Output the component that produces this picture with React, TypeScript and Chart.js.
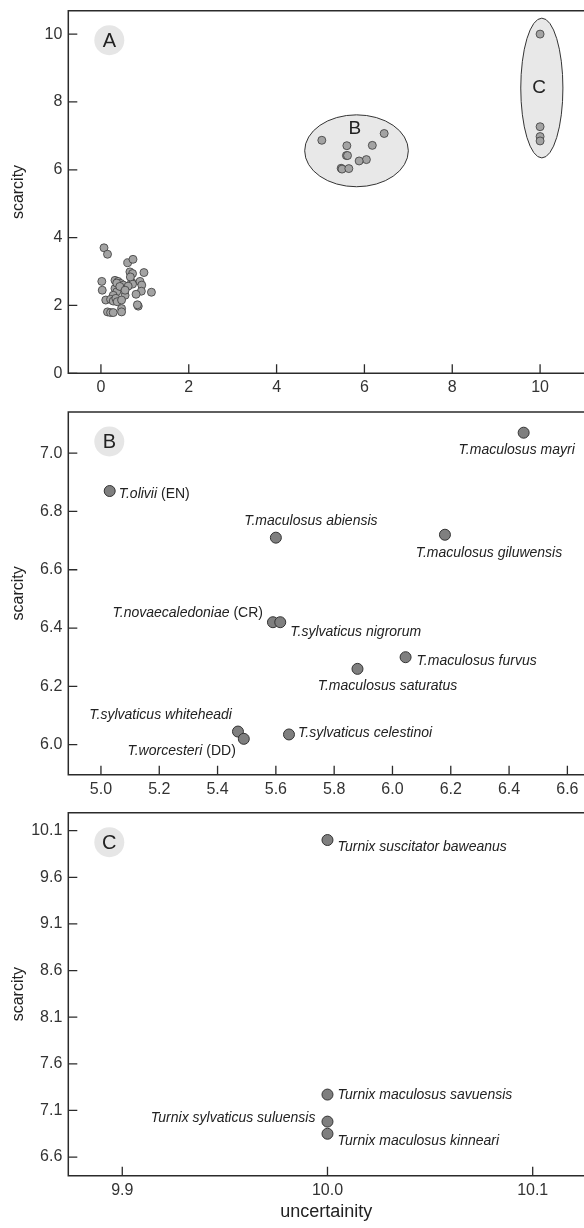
import React, { useEffect, useRef } from "react";
import { Chart, registerables } from "chart.js";
Chart.register(...registerables);

const FONT = "'Liberation Sans', Arial, Helvetica, sans-serif";

// ---------- Panel A : all taxa (uncertainty vs scarcity) ----------
const aClusterX = [0.07, 0.15, 0.61, 0.73, 0.66, 0.72, 0.98, 0.02, 0.03, 0.32, 0.39, 0.45, 0.51, 0.70, 0.72, 0.89, 0.93, 0.92, 1.15, 0.32, 0.36, 0.28, 0.55, 0.80, 0.11, 0.22, 0.28, 0.34, 0.37, 0.47, 0.85, 0.83, 0.15, 0.22, 0.28, 0.47, 0.47, 0.36, 0.43, 0.62, 0.67, 0.55];
const aClusterY = [3.70, 3.51, 3.26, 3.36, 2.99, 2.94, 2.97, 2.71, 2.45, 2.74, 2.71, 2.65, 2.60, 2.69, 2.63, 2.71, 2.60, 2.42, 2.39, 2.50, 2.40, 2.30, 2.30, 2.33, 2.16, 2.18, 2.13, 2.21, 2.11, 2.16, 1.98, 2.02, 1.81, 1.79, 1.79, 1.91, 1.81, 2.66, 2.56, 2.57, 2.84, 2.45];
const aXTicks = [0, 2, 4, 6, 8, 10];
const aYTicks = [0, 2, 4, 6, 8, 10];
// groups highlighted in panel A (data units)
const groupNames = ["B", "C"];
const groupCX = [5.82, 10.04];
const groupCY = [6.56, 8.41];
const groupRX = [1.18, 0.48];
const groupRY = [1.06, 2.06];
const groupLabelX = [5.78, 9.98];
const groupLabelY = [7.22, 8.41];

// ---------- Panel B : group B ----------
const bNames = ["T.olivii", "T.maculosus mayri", "T.maculosus abiensis", "T.maculosus giluwensis", "T.novaecaledoniae", "T.sylvaticus nigrorum", "T.maculosus furvus", "T.maculosus saturatus", "T.sylvaticus whiteheadi", "T.worcesteri", "T.sylvaticus celestinoi"];
const bStatus = ["(EN)", "", "", "", "(CR)", "", "", "", "", "(DD)", ""];
const bX = [5.03, 6.45, 5.60, 6.18, 5.59, 5.615, 6.045, 5.88, 5.47, 5.49, 5.645];
const bY = [6.87, 7.07, 6.71, 6.72, 6.42, 6.42, 6.30, 6.26, 6.045, 6.02, 6.035];
const bXTicks = [5.0, 5.2, 5.4, 5.6, 5.8, 6.0, 6.2, 6.4, 6.6];
const bYTicks = [6.0, 6.2, 6.4, 6.6, 6.8, 7.0];

// ---------- Panel C : group C ----------
const cNames = ["Turnix suscitator baweanus", "Turnix maculosus savuensis", "Turnix sylvaticus suluensis", "Turnix maculosus kinneari"];
const cX = [10.0, 10.0, 10.0, 10.0];
const cY = [10.0, 7.27, 6.98, 6.85];
const cXTicks = [9.9, 10.0, 10.1];
const cYTicks = [6.6, 7.1, 7.6, 8.1, 8.6, 9.1, 9.6, 10.1];

// label placement (pixels relative to the point), kept apart from data
type Place = { align: "left" | "right" | "center"; dx: number; dy: number };
const bPlace: Place[] = [
  { align: "left", dx: 9, dy: 3 },
  { align: "center", dx: -7, dy: 17 },
  { align: "center", dx: 35, dy: -17 },
  { align: "center", dx: 44, dy: 18 },
  { align: "right", dx: -10, dy: -9 },
  { align: "left", dx: 10, dy: 10 },
  { align: "left", dx: 11, dy: 4 },
  { align: "center", dx: 30, dy: 17 },
  { align: "right", dx: -6, dy: -16 },
  { align: "right", dx: -8, dy: 12 },
  { align: "left", dx: 9, dy: -1 },
];
const cPlace: Place[] = [
  { align: "left", dx: 10, dy: 7 },
  { align: "left", dx: 10, dy: 1 },
  { align: "right", dx: -12, dy: -4 },
  { align: "left", dx: 10, dy: 7 },
];

const pts = (xs: number[], ys: number[]) => xs.map((x, i) => ({ x, y: ys[i] }));

type Spec = {
  badge: string;
  height: number;
  plotTop: number;
  plotBottom: number;
  xMin: number; xMax: number; yMin: number; yMax: number;
  xTicks: number[]; yTicks: number[];
  decimals: number;
  datasets: any[];
  labels?: { names: string[]; status: string[]; place: Place[]; ds: number };
  groups?: boolean;
  xTitle?: string;
};

function drawLabel(ctx: CanvasRenderingContext2D, x: number, y: number, name: string, tag: string, align: string) {
  const it = `italic 14px ${FONT}`;
  const nf = `14px ${FONT}`;
  ctx.font = it;
  const wn = ctx.measureText(name).width;
  let wt = 0;
  if (tag) { ctx.font = nf; wt = ctx.measureText(" " + tag).width; }
  const total = wn + wt;
  const sx = align === "left" ? x : align === "right" ? x - total : x - total / 2;
  ctx.textAlign = "left";
  ctx.textBaseline = "middle";
  ctx.fillStyle = "#222";
  ctx.font = it;
  ctx.fillText(name, sx, y);
  if (tag) { ctx.font = nf; ctx.fillText(" " + tag, sx + wn, y); }
}

function makeDeco(spec: Spec) {
  return {
    id: "deco" + spec.badge,
    beforeDatasetsDraw(chart: any) {
      if (!spec.groups) return;
      const { ctx, scales } = chart;
      const xs = scales.x, ys = scales.y;
      ctx.save();
      groupNames.forEach((g, i) => {
        const cx = xs.getPixelForValue(groupCX[i]);
        const cy = ys.getPixelForValue(groupCY[i]);
        const rx = Math.abs(xs.getPixelForValue(groupCX[i] + groupRX[i]) - cx);
        const ry = Math.abs(ys.getPixelForValue(groupCY[i] + groupRY[i]) - cy);
        ctx.beginPath();
        ctx.ellipse(cx, cy, rx, ry, 0, 0, Math.PI * 2);
        ctx.fillStyle = "#e8e8e8";
        ctx.fill();
        ctx.lineWidth = 1;
        ctx.strokeStyle = "#333";
        ctx.stroke();
        ctx.fillStyle = "#222";
        ctx.font = `19px ${FONT}`;
        ctx.textAlign = "center";
        ctx.textBaseline = "middle";
        ctx.fillText(g, xs.getPixelForValue(groupLabelX[i]), ys.getPixelForValue(groupLabelY[i]));
      });
      ctx.restore();
    },
    afterDraw(chart: any) {
      const { ctx, chartArea, scales } = chart;
      const L = chartArea.left, T = chartArea.top, B = chartArea.bottom, R = chart.width;
      ctx.save();
      // axes frame (left, top, bottom)
      ctx.strokeStyle = "#2b2b2b";
      ctx.lineWidth = 1.5;
      ctx.beginPath();
      ctx.moveTo(R, T); ctx.lineTo(L, T); ctx.lineTo(L, B); ctx.lineTo(R, B);
      ctx.stroke();
      // inward ticks
      ctx.lineWidth = 1.3;
      ctx.beginPath();
      spec.yTicks.forEach((v) => {
        const p = scales.y.getPixelForValue(v);
        ctx.moveTo(L, p); ctx.lineTo(L + 9, p);
      });
      spec.xTicks.forEach((v) => {
        const p = scales.x.getPixelForValue(v);
        ctx.moveTo(p, B); ctx.lineTo(p, B - 9);
      });
      ctx.stroke();
      // badge
      ctx.beginPath();
      ctx.arc(L + 41, T + 29.5, 15, 0, Math.PI * 2);
      ctx.fillStyle = "#e6e6e6";
      ctx.fill();
      ctx.fillStyle = "#222";
      ctx.font = `20px ${FONT}`;
      ctx.textAlign = "center";
      ctx.textBaseline = "middle";
      ctx.fillText(spec.badge, L + 41, T + 30.5);
      // point labels
      if (spec.labels) {
        const lb = spec.labels;
        const meta = chart.getDatasetMeta(lb.ds);
        meta.data.forEach((el: any, i: number) => {
          const pl = lb.place[i];
          drawLabel(ctx, el.x + pl.dx, el.y + pl.dy, lb.names[i], lb.status[i], pl.align);
        });
      }
      ctx.restore();
    },
  };
}

function makeConfig(spec: Spec): any {
  const fmt = (v: number) => v.toFixed(spec.decimals);
  return {
    type: "scatter",
    data: { datasets: spec.datasets },
    options: {
      responsive: false,
      animation: false,
      events: [],
      layout: { autoPadding: false, padding: { top: spec.plotTop, left: 0, right: 0, bottom: 0 } },
      plugins: { legend: { display: false }, tooltip: { enabled: false } },
      scales: {
        x: {
          type: "linear",
          min: spec.xMin,
          max: spec.xMax,
          grid: { display: false, drawTicks: false },
          border: { display: false },
          afterBuildTicks: (s: any) => { s.ticks = spec.xTicks.map((v) => ({ value: v })); },
          afterFit: (s: any) => {
            s.height = spec.height - spec.plotBottom;
            s.paddingLeft = 0; s.paddingRight = 0; s.paddingTop = 0; s.paddingBottom = 0;
          },
          ticks: {
            padding: 5,
            color: "#333",
            autoSkip: false,
            maxRotation: 0,
            font: { family: FONT, size: 16 },
            callback: (v: any) => fmt(Number(v)),
          },
          title: spec.xTitle
            ? { display: true, text: spec.xTitle, color: "#222", font: { family: FONT, size: 18 }, padding: { top: 0, bottom: 5 } }
            : { display: false },
        },
        y: {
          type: "linear",
          min: spec.yMin,
          max: spec.yMax,
          grid: { display: false, drawTicks: false },
          border: { display: false },
          afterBuildTicks: (s: any) => { s.ticks = spec.yTicks.map((v) => ({ value: v })); },
          afterFit: (s: any) => {
            s.width = 68.3;
            s.paddingLeft = 0; s.paddingRight = 0; s.paddingTop = 0; s.paddingBottom = 0;
          },
          ticks: {
            padding: 6,
            color: "#333",
            autoSkip: false,
            font: { family: FONT, size: 16 },
            callback: (v: any) => fmt(Number(v)),
          },
          title: { display: true, text: "scarcity", color: "#222", font: { family: FONT, size: 16 }, padding: { top: 9, bottom: 0 } },
        },
      },
    },
    plugins: [makeDeco(spec)],
  };
}

const smallPt = { pointRadius: 4, pointBackgroundColor: "#a3a3a3", pointBorderColor: "#3a3a3a", pointBorderWidth: 0.8 };
const bigPt = { pointRadius: 5.5, pointBackgroundColor: "#7f7f7f", pointBorderColor: "#333", pointBorderWidth: 1 };

const specA: Spec = {
  badge: "A", height: 400, plotTop: 10.7, plotBottom: 373.3,
  xMin: -0.743, xMax: 11.0, yMin: 0, yMax: 10.69,
  xTicks: aXTicks, yTicks: aYTicks, decimals: 0,
  groups: true,
  datasets: [
    { data: pts(aClusterX, aClusterY), ...smallPt },
    { data: pts(bX, bY), ...smallPt },
    { data: pts(cX, cY), ...smallPt },
  ],
};
const specB: Spec = {
  badge: "B", height: 400, plotTop: 12, plotBottom: 374.7,
  xMin: 4.888, xMax: 6.657, yMin: 5.897, yMax: 7.141,
  xTicks: bXTicks, yTicks: bYTicks, decimals: 1,
  datasets: [{ data: pts(bX, bY), ...bigPt }],
  labels: { names: bNames, status: bStatus, place: bPlace, ds: 0 },
};
const specC: Spec = {
  badge: "C", height: 428, plotTop: 12.7, plotBottom: 375.7,
  xMin: 9.8737, xMax: 10.125, yMin: 6.4, yMax: 10.293,
  xTicks: cXTicks, yTicks: cYTicks, decimals: 1,
  datasets: [{ data: pts(cX, cY), ...bigPt }],
  labels: { names: cNames, status: ["", "", "", ""], place: cPlace, ds: 0 },
  xTitle: "uncertainity",
};

function Panel({ spec, top }: { spec: Spec; top: number }) {
  const ref = useRef<HTMLCanvasElement>(null);
  useEffect(() => {
    if (!ref.current) return;
    const chart = new Chart(ref.current, makeConfig(spec));
    return () => chart.destroy();
  }, [spec]);
  return (
    <canvas
      ref={ref}
      width={584}
      height={spec.height}
      style={{ position: "absolute", left: 0, top, width: 584, height: spec.height, display: "block" }}
    />
  );
}

export default function App() {
  return (
    <div style={{ position: "absolute", left: 0, top: 0, width: 584, height: 1228, background: "#fff", overflow: "hidden" }}>
      <Panel spec={specA} top={0} />
      <Panel spec={specB} top={400} />
      <Panel spec={specC} top={800} />
    </div>
  );
}
